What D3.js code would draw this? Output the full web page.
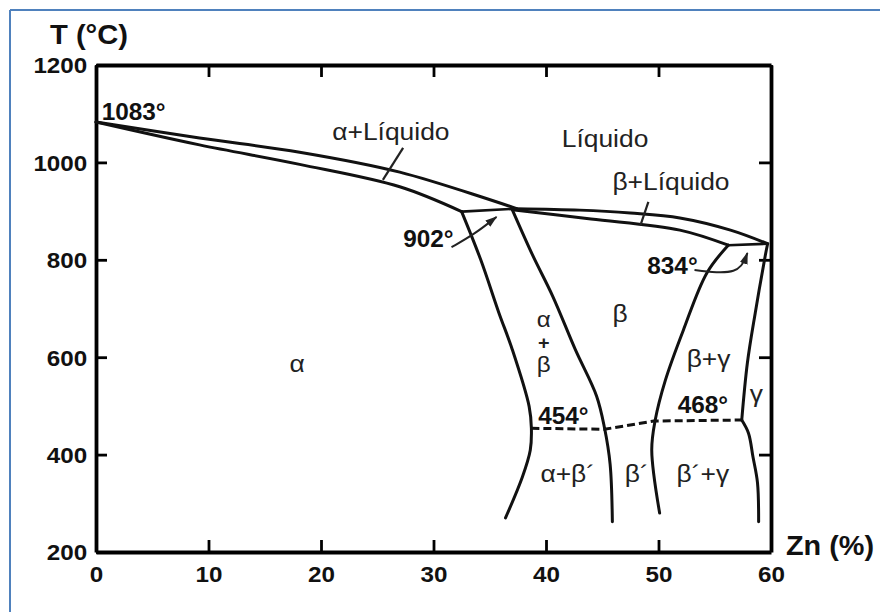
<!DOCTYPE html>
<html><head><meta charset="utf-8">
<script src="https://cdn.jsdelivr.net/npm/d3@7"></script>
<style>body{margin:0;background:#fff}</style>
</head><body>
<svg id="c" width="880" height="612"></svg>
<script>
// ---- data (x = Zn %, T = °C) ----
const xTicks = [0,10,20,30,40,50,60];
const yTicks = [200,400,600,800,1000,1200];
const liquidusAlpha = [[0,1083],[9.2,1050],[18.1,1021],[27,980],[37.4,905]];
const solidusAlpha  = [[0,1083],[9.2,1036],[18.1,996],[27,950],[32.5,899]];
const peritectic902 = [[32.5,899],[37.4,905]];
const liquidusBeta  = [[37.4,905],[43,902],[47.5,896],[51.9,886],[56.4,861],[59.7,833]];
const solidusBeta   = [[37,903],[44,884],[51.9,861],[56.2,830]];
const peritectic834 = [[56.2,830],[59.7,833]];
const alphaSolvus   = [[32.5,899],[34.2,800],[35.8,692],[37.0,616],[38.5,499],[38.7,454],[38.6,409],[37.9,354],[36.4,270]];
const betaLeft      = [[37,903],[38.8,810],[40.6,725],[42.6,616],[44.5,520],[45.2,455],[45.7,380],[45.9,262]];
const betaRight     = [[56.2,830],[54.3,773],[52.2,655],[50.6,552],[49.7,470],[49.4,409],[50.1,280]];
const gammaUpper    = [[59.7,833],[59.5,810],[58.6,691],[57.9,588],[57.4,471]];
const gammaLower    = [[57.4,471],[58.0,444],[58.4,395],[58.8,342],[58.9,262]];
const orderLine     = [[38.7,454],[45.2,452],[49.6,469],[57.4,471]];

const boldLabels = [
  {t:"1083°", x:0.5,  T:1087},
  {t:"902°",  x:27.3, T:826},
  {t:"834°",  x:49.0, T:771},
  {t:"454°",  x:39.3, T:463},
  {t:"468°",  x:51.7, T:485}
];
const phaseLabels = [
  {t:"α+Líquido", x:21.0, T:1046, s:24},
  {t:"Líquido",   x:41.4, T:1032, s:24},
  {t:"β+Líquido", x:45.9, T:943,  s:24},
  {t:"α",         x:17.2, T:570,  s:24},
  {t:"β",         x:45.9, T:672,  s:24},
  {t:"β+γ",       x:52.5, T:580,  s:24},
  {t:"γ",         x:58.1, T:508,  s:24},
  {t:"α+β´",      x:39.5, T:344,  s:24},
  {t:"β´",        x:47.0, T:344,  s:24},
  {t:"β´+γ",      x:51.6, T:344,  s:24}
];
// vertical "α / + / β" label inside the α+β field
const stackedLabels = [
  {t:"α", x:39.8, T:661, s:22, w:"normal"},
  {t:"+", x:39.8, T:616, s:18, w:"bold"},
  {t:"β", x:39.8, T:569, s:22, w:"normal"}
];
const pointers = [
  [[27.3,1030],[25.5,964]],
  [[49.1,919],[48.4,871]]
];
const arrows = [
  [[31.6,826],[33.6,852],[35.6,888]],
  [[53.2,779],[57.2,768],[57.9,814]]
];

// ---- drawing ----
const svg = d3.select("#c");
const FONT = "'Liberation Sans', Arial, Helvetica, sans-serif";
const SX = 1.1;

// blue frame (top & left edges)
svg.append("line").attr("x1",10).attr("y1",10).attr("x2",880).attr("y2",10)
  .attr("stroke","#4f81bd").attr("stroke-width",2);
svg.append("line").attr("x1",10).attr("y1",10).attr("x2",10).attr("y2",612)
  .attr("stroke","#4f81bd").attr("stroke-width",2);

const x = d3.scaleLinear().domain([0,60]).range([96,771]);
const y = d3.scaleLinear().domain([200,1200]).range([552,65]);

function styleAxis(g, showText){
  g.select(".domain").attr("stroke","#000").attr("stroke-width",3.8);
  g.selectAll(".tick line").attr("stroke","#000").attr("stroke-width",2.8);
  g.selectAll("text").attr("font-family",FONT).attr("font-size",22)
    .attr("font-weight","bold").attr("fill","#111")
    .attr("transform",`scale(${SX},1)`);
  if(!showText) g.selectAll("text").remove();
}

const gB = svg.append("g").attr("transform",`translate(0,${y(200)})`)
  .call(d3.axisBottom(x).tickValues(xTicks).tickFormat(d3.format("d"))
    .tickSizeInner(-12).tickSizeOuter(0).tickPadding(15));
gB.selectAll("text").attr("dy","0.71em");
styleAxis(gB,true);
gB.selectAll("text").attr("y",14);

const gT = svg.append("g").attr("transform",`translate(0,${y(1200)})`)
  .call(d3.axisTop(x).tickValues(xTicks).tickSizeInner(-12).tickSizeOuter(0));
styleAxis(gT,false);

const gL = svg.append("g").attr("transform",`translate(${x(0)},0)`)
  .call(d3.axisLeft(y).tickValues(yTicks).tickFormat(d3.format("d"))
    .tickSizeInner(-11).tickSizeOuter(0).tickPadding(8));
styleAxis(gL,true);
gL.selectAll("text").attr("dy","0.36em");

const gR = svg.append("g").attr("transform",`translate(${x(60)},0)`)
  .call(d3.axisRight(y).tickValues(yTicks).tickSizeInner(-12).tickSizeOuter(0));
styleAxis(gR,false);

// axis titles
svg.append("text").attr("transform",`translate(50,44) scale(1.08,1)`)
  .attr("font-family",FONT).attr("font-size",27).attr("font-weight","bold").attr("fill","#111")
  .text("T (°C)");
svg.append("text").attr("transform",`translate(786,555) scale(1.03,1)`)
  .attr("font-family",FONT).attr("font-size",28).attr("font-weight","bold").attr("fill","#111")
  .text("Zn (%)");

// phase boundaries
const smooth = d3.line().x(d=>x(d[0])).y(d=>y(d[1])).curve(d3.curveCatmullRom.alpha(0.5));
const straight = d3.line().x(d=>x(d[0])).y(d=>y(d[1]));
const curves = [liquidusAlpha, solidusAlpha, liquidusBeta, solidusBeta,
                alphaSolvus, betaLeft, betaRight, gammaUpper, gammaLower];
svg.append("g").selectAll("path").data(curves).join("path")
  .attr("d",smooth).attr("fill","none").attr("stroke","#111")
  .attr("stroke-width",3).attr("stroke-linejoin","round").attr("stroke-linecap","round");
svg.append("g").selectAll("path").data([peritectic902, peritectic834]).join("path")
  .attr("d",straight).attr("fill","none").attr("stroke","#111").attr("stroke-width",2.6);
svg.append("path").datum(orderLine).attr("d",straight).attr("fill","none")
  .attr("stroke","#111").attr("stroke-width",3).attr("stroke-dasharray","8,4");

// pointers and arrows
svg.append("defs").append("marker").attr("id","ah")
  .attr("markerUnits","userSpaceOnUse").attr("markerWidth",13).attr("markerHeight",10)
  .attr("refX",11).attr("refY",4).attr("orient","auto")
  .append("path").attr("d","M0,0 L12,4 L0,8 Z").attr("fill","#222");
svg.append("g").selectAll("path").data(pointers).join("path")
  .attr("d",straight).attr("fill","none").attr("stroke","#222").attr("stroke-width",2.2);
const curveArrow = d3.line().x(d=>x(d[0])).y(d=>y(d[1])).curve(d3.curveBasis);
svg.append("g").selectAll("path").data(arrows).join("path")
  .attr("d",curveArrow).attr("fill","none").attr("stroke","#222").attr("stroke-width",2)
  .attr("marker-end","url(#ah)");

// labels
svg.append("g").selectAll("text").data(boldLabels).join("text")
  .attr("transform",d=>`translate(${x(d.x)},${y(d.T)}) scale(1.06,1)`)
  .attr("font-family",FONT).attr("font-size",23).attr("font-weight","bold").attr("fill","#111")
  .text(d=>d.t);
svg.append("g").selectAll("text").data(phaseLabels).join("text")
  .attr("transform",d=>`translate(${x(d.x)},${y(d.T)}) scale(${SX},1)`)
  .attr("font-family",FONT).attr("font-size",d=>d.s).attr("fill","#222")
  .text(d=>d.t);
svg.append("g").selectAll("text").data(stackedLabels).join("text")
  .attr("transform",d=>`translate(${x(d.x)},${y(d.T)}) scale(${SX},1)`)
  .attr("text-anchor","middle")
  .attr("font-family",FONT).attr("font-size",d=>d.s).attr("font-weight",d=>d.w).attr("fill","#222")
  .text(d=>d.t);
</script>
</body></html>
